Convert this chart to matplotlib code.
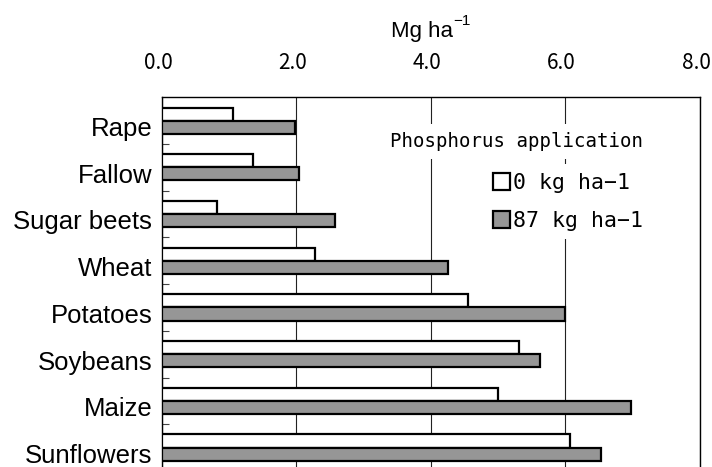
import matplotlib
matplotlib.use('Agg')
import matplotlib.pyplot as plt
from matplotlib.patches import Patch
from matplotlib.transforms import ScaledTranslation
import numpy as np

crops = ['Rape', 'Fallow', 'Sugar beets', 'Wheat', 'Potatoes', 'Soybeans', 'Maize', 'Sunflowers']
p0 = [1.05, 1.35, 0.82, 2.27, 4.55, 5.31, 5.00, 6.06]
p87 = [1.98, 2.04, 2.58, 4.25, 6.00, 5.62, 6.98, 6.53]
xticks = [0.0, 2.0, 4.0, 6.0, 8.0]

gothic = ['Noto Sans CJK JP', 'DejaVu Sans']
mono = ['DejaVu Sans Mono']
arial = ['Liberation Sans', 'DejaVu Sans']
gray = '#969696'

fig = plt.figure(figsize=(7.12, 4.67), dpi=100)
ax = fig.add_axes([0.2275, -0.0084, 0.7556, 0.8])

y = np.arange(len(crops))
h = 0.28
ax.barh(y - h / 2, p0, height=h, color='white', edgecolor='black', linewidth=1.6, zorder=3)
ax.barh(y + h / 2, p87, height=h, color=gray, edgecolor='black', linewidth=1.6, zorder=3)

ax.set_ylim(len(crops) - 0.5, -0.5)
ax.set_xlim(0, 8)

# category labels sit level with the lower bar
ax.set_yticks(y + 0.125)
ax.set_yticklabels(crops, family=arial, fontsize=18.5)
ax.tick_params(axis='y', length=0, pad=7)
ax.set_yticks(np.arange(len(crops) - 1) + 0.5, minor=True)
ax.tick_params(axis='y', which='minor', direction='in', length=5, width=0.8, color='#444444')

ax.xaxis.tick_top()
ax.set_xticks(xticks)
ax.set_xticklabels([f'{v:.1f}' for v in xticks], family=gothic, fontsize=15)
ax.tick_params(axis='x', length=0, pad=17)
shift = ScaledTranslation(-0.04, 0, fig.dpi_scale_trans)
for lab in ax.get_xticklabels():
  lab.set_transform(lab.get_transform() + shift)
ax.grid(axis='x', color='#222222', linewidth=0.8, zorder=0)

for s in ax.spines.values():
  s.set_linewidth(1.0)
  s.set_color('black')

# axis unit above the tick labels
fig.text(391 / 712, 1 - 36.7 / 467, 'Mg ha', family=arial, fontsize=16, va='baseline', ha='left')
fig.text(453 / 712, 1 - 25 / 467, '\u22121', family=arial, fontsize=11, va='baseline', ha='left')

fig.text(390 / 712, 0.697, 'Phosphorus application', family=mono, fontsize=13.7,
         va='center', ha='left',
         bbox=dict(facecolor='white', edgecolor='none', pad=5.5), zorder=5)

handles = [Patch(facecolor='white', edgecolor='black', linewidth=1.6, label='0 kg ha\u22121'),
           Patch(facecolor=gray, edgecolor='black', linewidth=1.6, label='87 kg ha\u22121')]
leg = ax.legend(handles=handles, loc='upper left', bbox_to_anchor=(0.680, 0.648),
                bbox_transform=fig.transFigure, frameon=True, fancybox=False,
                prop={'family': mono, 'size': 15.5}, handlelength=0.8, handleheight=0.8,
                handletextpad=0.15, labelspacing=0.83, borderpad=0.4, borderaxespad=0)
leg.get_frame().set_edgecolor('none')
leg.get_frame().set_facecolor('white')
leg.get_frame().set_alpha(1)
leg.set_zorder(5)

fig.savefig('out.png', dpi=100)
